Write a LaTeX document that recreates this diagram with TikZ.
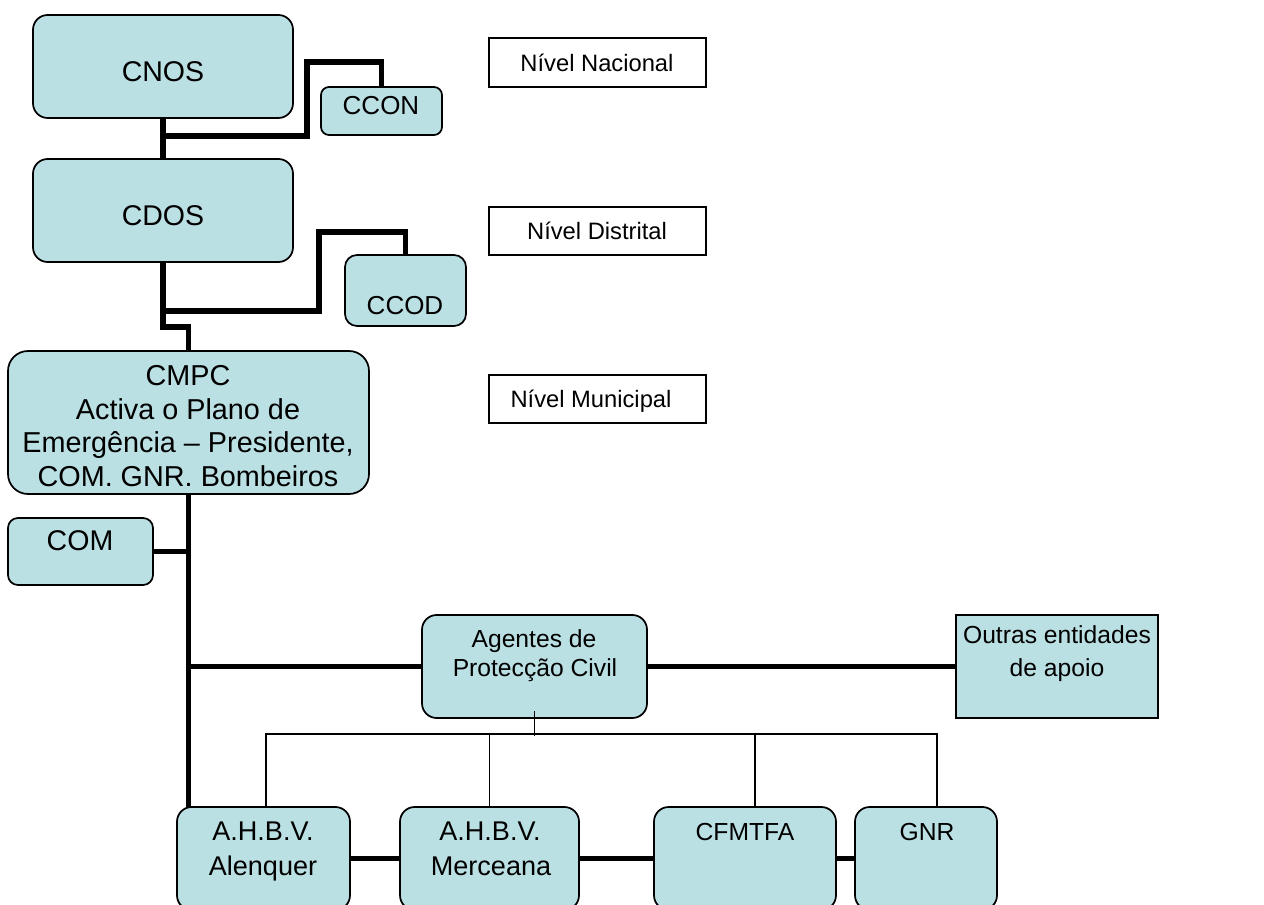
\documentclass[tikz,border=0pt]{standalone}
\usepackage{fontspec}
\setmainfont{Liberation Sans}
\usetikzlibrary{fit,backgrounds}
\definecolor{boxfill}{RGB}{187,224,227}
\newcommand{\fsBig}{\fontsize{21.4pt}{25pt}\selectfont}
\newcommand{\fsMid}{\fontsize{19.5pt}{23pt}\selectfont}
\newcommand{\fsCm}{\fontsize{21.6pt}{25pt}\selectfont}
\newcommand{\fsAg}{\fontsize{18.5pt}{22pt}\selectfont}
\newcommand{\fsAh}{\fontsize{20.3pt}{24pt}\selectfont}
\newcommand{\fsLv}{\fontsize{17.8pt}{21pt}\selectfont}
\tikzset{
  box/.style={draw=black, line width=1.3pt, fill=boxfill, inner sep=0pt, rounded corners=#1},
  box/.default=11pt,
  sqbox/.style={draw=black, line width=1.3pt, fill=boxfill, inner sep=0pt},
  lvlbox/.style={draw=black, line width=1.1pt, fill=white, inner sep=0pt},
  conn/.style={line width=4pt},
  thinconn/.style={line width=1.2pt},
  lbl/.style={anchor=base, inner sep=0pt},
}
\begin{document}
\begin{tikzpicture}[x=0.75pt, y=-0.75pt]
\useasboundingbox (0,0) rectangle (1264,905);

% boxes
\node[box, fit={(33,15) (293,118)}] (cnos) {};
\node[box=6pt, fit={(321,87) (442,135)}] (ccon) {};
\node[box, fit={(33,159) (293,262)}] (cdos) {};
\node[box=9pt, fit={(345,255) (466,326)}] (ccod) {};
\node[box=15pt, fit={(8,351) (369,494)}] (cmpc) {};
\node[box=7.5pt, fit={(8,518) (153,585)}] (com) {};
\node[box, fit={(422,615) (647,718)}] (agentes) {};
\node[sqbox, fit={(956,615) (1158,718)}] (outras) {};
\node[box, fit={(177,807) (350,910)}] (alenquer) {};
\node[box, fit={(400,807) (579,910)}] (merceana) {};
\node[box, fit={(654,807) (836,910)}] (cfmtfa) {};
\node[box, fit={(855,807) (997,910)}] (gnr) {};
\node[lvlbox, fit={(489,38) (706,87)}] (nac) {};
\node[lvlbox, fit={(489,207) (706,255)}] (dis) {};
\node[lvlbox, fit={(489,375) (706,423)}] (mun) {};

% texts
\node[lbl, font=\fsBig] (cnos-t) at (163,82) {CNOS};
\node[lbl, font=\fsMid] (ccon-t) at (381,115) {CCON};
\node[lbl, font=\fsBig] (cdos-t) at (163,226) {CDOS};
\node[lbl, font=\fsMid] (ccod-t) at (405,315) {CCOD};
\node[lbl, font=\fsCm] (cmpc-t1) at (188,386) {CMPC};
\node[lbl, font=\fsCm] (cmpc-t2) at (188,420) {Activa o Plano de};
\node[lbl, font=\fsCm] (cmpc-t3) at (188,453) {Emergência – Presidente,};
\node[lbl, font=\fsCm] (cmpc-t4) at (188,487) {COM. GNR. Bombeiros};
\node[lbl, font=\fsBig] (com-t) at (80,550) {COM};
\node[lbl, font=\fsAg] (agentes-t1) at (534,647) {Agentes de};
\node[lbl, font=\fsAg] (agentes-t2) at (535,676) {Protecção Civil};
\node[lbl, font=\fsAg] (outras-t1) at (1057,643) {Outras entidades};
\node[lbl, font=\fsAg] (outras-t2) at (1057,676) {de apoio};
\node[lbl, font=\fsAh] (alenquer-t1) at (263,840) {A.H.B.V.};
\node[lbl, font=\fsAh] (alenquer-t2) at (263,875) {Alenquer};
\node[lbl, font=\fsAh] (merceana-t1) at (490,840) {A.H.B.V.};
\node[lbl, font=\fsAh] (merceana-t2) at (491,875) {Merceana};
\node[lbl, font=\fsAg] (cfmtfa-t) at (745,840) {CFMTFA};
\node[lbl, font=\fsAg] (gnr-t) at (927,840) {GNR};
\node[lbl, font=\fsLv] (nac-t) at (597,72) {Nível Nacional};
\node[lbl, font=\fsLv] (dis-t) at (597,240) {Nível Distrital};
\node[lbl, font=\fsLv] (mun-t) at (591,408) {Nível Municipal};

% thick connectors
\begin{scope}[on background layer]
\draw[conn] (cnos.south) -- (cdos.north);
\draw[conn] (cnos.south) -- ++(0,17) -| (307,62) -| (ccon.north);
\draw[conn] (cdos.south) -- ++(0,48) -| (319,232) -| (ccod.north);
\draw[conn] (cdos.south) -- ++(0,64) -| (cmpc.north);
\draw[conn] (cmpc.south) -- ([yshift=-6pt]cmpc.south |- alenquer.north);
\draw[conn] (com.east) -- (cmpc.south |- com.east);
\draw[conn] (cmpc.south |- agentes.west) -- (agentes.west);
\draw[conn] (agentes.east) -- (agentes.east -| outras.west);
\draw[conn] (alenquer.east) -- (merceana.west);
\draw[conn] (merceana.east) -- (cfmtfa.west);
\draw[conn] (cfmtfa.east) -- (gnr.west);
\end{scope}

% thin tree
\draw[thinconn] ([yshift=6pt]agentes.south) -- ++(0,25);
\draw[thinconn] ([xshift=1.9pt]alenquer.north) -- ++(0,-72) -| ([xshift=8.25pt]gnr.north);
\draw[thinconn] (merceana.north) -- ++(0,-72);
\draw[thinconn] ([xshift=7.5pt]cfmtfa.north) -- ++(0,-72);
\end{tikzpicture}
\end{document}
